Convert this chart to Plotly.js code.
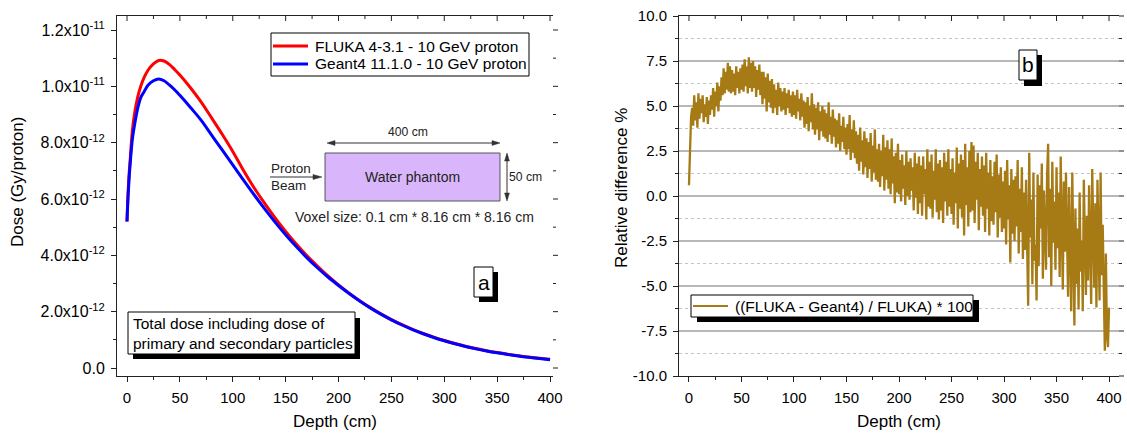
<!DOCTYPE html>
<html><head><meta charset="utf-8">
<script src="https://cdn.plot.ly/plotly-3.0.1.min.js"></script>
<style>html,body{margin:0;padding:0;background:#fff}#chart{width:1127px;height:433px}</style>
</head><body><div id="chart"></div>
<script>
// ---------- data ----------
const depthDose = [0,1,2,3,5,7,10,13,16,20,25,30,35,40,45,50,60,70,80,90,100,110,120,130,140,150,160,170,180,190,200,210,220,230,240,250,260,270,280,290,300,310,320,330,340,350,360,370,380,390,400];
const flukaDose = [5.2e-12,6.2e-12,6.9e-12,7.4e-12,8.4e-12,9.0e-12,9.6e-12,10.0e-12,10.3e-12,10.58e-12,10.8e-12,10.92e-12,10.9e-12,10.78e-12,10.6e-12,10.4e-12,9.95e-12,9.45e-12,8.88e-12,8.3e-12,7.69e-12,7.02e-12,6.41e-12,5.85e-12,5.33e-12,4.85e-12,4.40e-12,3.99e-12,3.62e-12,3.27e-12,2.95e-12,2.66e-12,2.39e-12,2.145e-12,1.922e-12,1.72e-12,1.537e-12,1.373e-12,1.226e-12,1.094e-12,0.976e-12,0.87e-12,0.775e-12,0.69e-12,0.615e-12,0.548e-12,0.488e-12,0.435e-12,0.387e-12,0.345e-12,0.307e-12];
const geant4Dose = [5.2e-12,6.1e-12,6.75e-12,7.25e-12,8.1e-12,8.6e-12,9.2e-12,9.6e-12,9.8e-12,10.05e-12,10.2e-12,10.26e-12,10.2e-12,10.05e-12,9.88e-12,9.68e-12,9.25e-12,8.8e-12,8.27e-12,7.74e-12,7.21e-12,6.68e-12,6.16e-12,5.66e-12,5.18e-12,4.73e-12,4.31e-12,3.92e-12,3.56e-12,3.23e-12,2.93e-12,2.645e-12,2.38e-12,2.135e-12,1.912e-12,1.71e-12,1.527e-12,1.363e-12,1.216e-12,1.084e-12,0.966e-12,0.86e-12,0.765e-12,0.68e-12,0.605e-12,0.538e-12,0.478e-12,0.425e-12,0.377e-12,0.335e-12,0.297e-12];
// relative difference, one value per cm of depth, starting at 0 cm
const relDiffStart = 0, relDiffStep = 1;
const relDiff = [
0.6,3.1,4.4,4.9,3.9,5.6,4.2,5.2,3.8,5.7,
4.3,5.4,4.6,5.6,4.1,5.1,4.4,5.5,4.0,5.3,
4.5,5.6,4.8,6.0,4.4,5.8,5.0,6.3,4.7,6.1,
5.3,6.6,5.6,7.1,5.7,6.9,5.9,7.4,5.8,7.2,
5.7,7.0,5.8,6.8,5.6,7.2,6.0,6.9,5.7,7.1,
5.9,7.3,5.8,7.6,6.1,7.2,5.7,7.7,6.0,7.4,
5.8,7.5,6.0,7.2,5.5,7.0,5.9,7.3,5.6,6.9,
5.1,6.9,5.4,6.6,4.7,6.8,5.2,6.4,4.9,6.5,
4.6,6.2,4.9,5.9,4.5,6.3,5.0,6.0,4.7,5.8,
4.8,6.0,4.5,5.7,4.9,5.9,4.6,5.6,4.4,5.8,
4.5,5.6,4.3,5.9,4.7,5.4,4.2,5.7,4.4,5.3,
3.8,5.2,4.0,5.5,3.6,5.0,4.1,5.7,3.7,5.1,
3.4,4.9,3.7,5.2,3.1,4.7,3.6,5.0,3.3,4.8,
3.2,4.6,3.0,5.2,3.4,4.4,2.9,4.8,3.3,4.3,
2.7,4.2,2.9,4.6,2.5,3.9,3.0,4.4,2.6,3.8,
2.3,4.0,2.6,4.5,2.0,3.7,2.4,4.2,2.1,3.6,
1.8,3.4,1.4,3.8,1.9,3.1,1.2,3.6,1.6,3.2,
1.0,3.0,1.5,3.5,0.8,2.8,1.3,3.7,0.9,2.6,
0.8,2.9,0.5,2.5,1.1,3.4,0.3,2.7,0.9,3.1,
0.4,2.6,0.1,3.2,0.7,2.2,-0.4,2.4,0.2,2.9,
0.1,2.0,-0.3,2.3,0.4,1.7,-0.5,2.5,0.0,1.9,
-0.2,2.1,0.3,1.6,-0.8,2.4,-0.1,1.8,-1.0,2.2,
-0.4,1.7,-1.1,2.2,0.1,1.5,-1.3,2.6,-0.6,1.9,
-0.7,2.3,-1.2,1.4,-0.2,2.6,-0.9,1.8,-1.3,2.0,
-0.8,1.6,-1.5,2.4,-0.3,1.9,-1.1,2.6,-0.6,1.5,
-1.0,2.1,-1.6,1.3,-0.4,2.7,-1.8,1.8,-0.7,2.3,
-1.2,2.0,-2.2,2.9,-0.5,1.6,-1.7,2.5,-0.9,3.0,
-0.8,2.8,-1.5,1.9,-0.2,2.4,-1.9,1.5,-0.6,2.2,
-1.1,1.7,-2.0,2.4,-0.7,1.3,-2.2,2.0,-1.4,1.1,
-1.6,1.9,-0.9,2.3,-2.3,1.2,-1.2,1.6,-2.0,0.8,
-1.8,1.4,-2.7,2.0,-1.3,0.6,-3.7,1.5,-2.1,0.9,
-2.5,1.1,-1.7,2.0,-3.2,0.4,-2.0,1.6,-3.5,0.2,
-3.0,0.9,-4.4,-6.1,2.4,-2.3,-0.2,-4.9,1.3,-3.6,
-2.7,-5.8,1.2,-3.9,0.6,-1.8,1.8,-4.6,0.3,-2.2,
-4.1,1.1,2.9,-3.4,0.4,-5.0,1.9,-2.6,-0.3,-4.1,
1.6,-2.9,0.2,-4.5,2.2,-1.7,-5.2,0.8,-3.1,1.3,
-2.4,-5.6,0.5,-3.8,-6.4,1.3,-2.9,-7.2,-0.7,-4.9,
-1.8,-6.3,0.2,-4.2,-2.5,-6.4,0.9,-3.6,-5.5,-1.1,
-4.7,0.6,-2.8,-6.0,1.5,-3.3,-5.1,-0.4,-6.2,0.9,
-2.6,-5.8,1.3,-4.4,-1.6,-6.5,-8.6,-3.2,-7.7,-8.4,-6.2
];
const doseTickVals = [0,2e-12,4e-12,6e-12,8e-12,1e-11,1.2e-11];
const doseTickText = ['0.0','2.0x10<sup>-12</sup>','4.0x10<sup>-12</sup>','6.0x10<sup>-12</sup>','8.0x10<sup>-12</sup>','1.0x10<sup>-11</sup>','1.2x10<sup>-11</sup>'];
const doseMinorVals = [1e-12,3e-12,5e-12,7e-12,9e-12,1.1e-11];
const diffTickVals = [-10,-7.5,-5,-2.5,0,2.5,5,7.5,10];
const diffTickText = ['-10.0','-7.5','-5.0','-2.5','0.0','2.5','5.0','7.5','10.0'];
const diffMinorVals = [-8.75,-6.25,-3.75,-1.25,1.25,3.75,6.25,8.75];
const depthTickVals = [0,50,100,150,200,250,300,350,400];
const depthMinorVals = [25,75,125,175,225,275,325,375];
const nameFluka = 'FLUKA 4-3.1 - 10 GeV proton';
const nameGeant = 'Geant4 11.1.0 - 10 GeV proton';
const nameDiff = '((FLUKA - Geant4) / FLUKA) * 100';

// ---------- layout helpers ----------
const W = 1127, H = 433, L = 117, R = 8, T = 16, B = 57;
const PX = x => (x - L) / (W - L - R);
const PY = y => (H - B - y) / (H - T - B);
const FONT = 'Liberation Sans, Arial, sans-serif';
const LC = '#222';
const RED = '#ff0000', BLUE = '#0000ff', GOLD = '#a67a14';

const xRangeL = [-9.46, 402.8];
const yRangeL = [-2.84e-13, 1.2497e-11];
const xRangeR = [-9.5, 409.5];
const yRangeR = [-10, 10];
const domL = [0, PX(553)], domR = [PX(679), 1];

const data = [
  {x: depthDose, y: flukaDose, type: 'scatter', mode: 'lines', name: nameFluka, showlegend: false,
   line: {color: RED, width: 3, shape: 'spline'}, xaxis: 'x', yaxis: 'y'},
  {x: depthDose, y: geant4Dose, type: 'scatter', mode: 'lines', name: nameGeant, showlegend: false,
   line: {color: BLUE, width: 3, shape: 'spline'}, xaxis: 'x', yaxis: 'y'},
  {y: relDiff, x0: relDiffStart, dx: relDiffStep, type: 'scatter', mode: 'lines', name: nameDiff, showlegend: false,
   line: {color: GOLD, width: 2.3}, xaxis: 'x2', yaxis: 'y2'}
];

const baseAx = {
  showline: true, linecolor: LC, linewidth: 1, mirror: false, zeroline: false, showgrid: false,
  ticks: 'outside', ticklen: 5, tickwidth: 1, tickcolor: LC,
  tickfont: {family: FONT, size: 15, color: '#000'}, fixedrange: true
};
const xMain = (dom, range, anchor) => Object.assign({}, baseAx, {
  domain: dom, range: range, anchor: anchor, mirror: true, tickmode: 'array', tickvals: depthTickVals,
  ticklabelstandoff: 3,
  minor: {tickmode: 'array', tickvals: depthMinorVals, ticks: 'outside', ticklen: 3, tickcolor: LC},
  title: {text: 'Depth (cm)', font: {family: FONT, size: 17, color: '#000'}, standoff: 10}
});

const rect = (x0, y0, x1, y1, fill, lineColor, lw) => ({
  type: 'rect', xref: 'paper', yref: 'paper', x0: PX(x0), x1: PX(x1), y0: PY(y0), y1: PY(y1),
  fillcolor: fill, line: {color: lineColor || fill, width: lw || 0}, layer: 'above'
});
const seg = (x0, y0, x1, y1, color, w) => ({
  type: 'line', xref: 'paper', yref: 'paper', x0: PX(x0), x1: PX(x1), y0: PY(y0), y1: PY(y1),
  line: {color: color, width: w}, layer: 'above'
});
const tri = (pts, color) => ({
  type: 'path', xref: 'paper', yref: 'paper', layer: 'above', fillcolor: color, line: {color: color, width: 0.5},
  path: 'M' + pts.map(p => PX(p[0]) + ',' + PY(p[1])).join(' L') + ' Z'
});
const txt = (x, y, text, size, anchor, color) => ({
  xref: 'paper', yref: 'paper', x: PX(x), y: PY(y), text: text, showarrow: false,
  xanchor: anchor || 'center', yanchor: 'middle', align: 'left',
  font: {family: FONT, size: size, color: color || '#000'}
});
// frame ticks (top: inward, right: outward), placed from the axes' own ranges and domains
const onAxis = (v, range, dom) => dom[0] + (v - range[0]) / (range[1] - range[0]) * (dom[1] - dom[0]);
const topTicks = (vals, range, dom, len) => vals.map(v => {
  const xp = onAxis(v, range, dom);
  return {type: 'line', xref: 'paper', yref: 'paper', x0: xp, x1: xp, y0: PY(T), y1: PY(T + len),
          line: {color: LC, width: 1}, layer: 'above'};
});
const rightTicks = (vals, range, xPix, len) => vals.map(v => {
  const yp = onAxis(v, range, [0, 1]);
  return {type: 'line', xref: 'paper', yref: 'paper', x0: PX(xPix), x1: PX(xPix + len), y0: yp, y1: yp,
          line: {color: LC, width: 1}, layer: 'above'};
});

const frameShapes = [].concat(
  topTicks(depthTickVals, xRangeL, domL, 5), topTicks(depthMinorVals, xRangeL, domL, 3),
  topTicks(depthTickVals, xRangeR, domR, 5), topTicks(depthMinorVals, xRangeR, domR, 3),
  rightTicks(doseTickVals, yRangeL, 553, 5), rightTicks(doseMinorVals, yRangeL, 553, 3),
  rightTicks(diffTickVals, yRangeR, 1119, 5), rightTicks(diffMinorVals, yRangeR, 1119, 3)
);

const layout = {
  width: W, height: H, margin: {l: L, r: R, t: T, b: B}, autosize: false,
  paper_bgcolor: '#fff', plot_bgcolor: 'rgba(0,0,0,0)',
  font: {family: FONT, color: '#000'},
  showlegend: false,
  xaxis: xMain(domL, xRangeL, 'y'),
  yaxis: Object.assign({}, baseAx, {
    domain: [0, 1], range: yRangeL, anchor: 'x', tickmode: 'array', tickvals: doseTickVals, ticktext: doseTickText,
    ticklabelstandoff: 3, tickfont: {family: FONT, size: 16, color: '#000'},
    minor: {tickmode: 'array', tickvals: doseMinorVals, ticks: 'outside', ticklen: 3, tickcolor: LC}
  }),
  xaxis2: xMain(domR, xRangeR, 'y2'),
  yaxis2: Object.assign({}, baseAx, {
    domain: [0, 1], range: yRangeR, anchor: 'x2', tickmode: 'array', tickvals: diffTickVals, ticktext: diffTickText,
    ticklabelstandoff: 3,
    showgrid: true, gridcolor: '#b8b8b8', gridwidth: 1.5,
    minor: {tickmode: 'array', tickvals: diffMinorVals, ticks: 'outside', ticklen: 3, tickcolor: LC,
            showgrid: true, gridcolor: '#c4c4c4', griddash: 'dot', gridwidth: 1}
  }),
  shapes: frameShapes.concat([
    // left legend
    rect(271, 33, 529, 76, '#fff', '#000', 1),
    seg(273, 46, 308, 46, RED, 3),
    seg(273, 64, 308, 64, BLUE, 3),
    // right legend with shadow
    rect(697, 300, 979, 322, '#000'),
    rect(691, 295, 973, 317, '#fff', '#000', 1),
    seg(693, 306, 728, 306, GOLD, 2),
    // total dose note box with shadow
    rect(133, 318, 360, 359, '#000'),
    rect(128, 312, 355, 354, '#fff', '#000', 1),
    // "a" box
    rect(479, 272, 498, 302, '#000'),
    rect(474, 267, 493, 297, '#fff', '#000', 1),
    // "b" box
    rect(1024, 55, 1042, 86, '#000'),
    rect(1019, 50, 1037, 80, '#fff', '#000', 1),
    // water phantom sketch
    rect(325, 153, 500, 201, '#d9b6fb', '#555', 1),
    seg(329, 143, 498, 143, '#333', 1),
    tri([[327, 143], [335, 140.6], [335, 145.4]], '#333'),
    tri([[500, 143], [492, 140.6], [492, 145.4]], '#333'),
    seg(507, 155, 507, 199, '#333', 1),
    tri([[507, 153], [504.6, 161], [509.4, 161]], '#333'),
    tri([[507, 201], [504.6, 193], [509.4, 193]], '#333'),
    seg(270, 177, 318, 177, '#333', 1),
    tri([[322, 177], [313, 174.5], [313, 179.5]], '#333')
  ]),
  annotations: [
    {xref: 'paper', yref: 'paper', x: PX(17), y: PY(182), text: 'Dose (Gy/proton)', textangle: -90, showarrow: false,
     font: {family: FONT, size: 17, color: '#000'}, xanchor: 'center', yanchor: 'middle'},
    {xref: 'paper', yref: 'paper', x: PX(621), y: PY(188), text: 'Relative difference %', textangle: -90, showarrow: false,
     font: {family: FONT, size: 17, color: '#000'}, xanchor: 'center', yanchor: 'middle'},
    txt(313, 46, nameFluka, 15.5, 'left'),
    txt(313, 64, nameGeant, 15.5, 'left'),
    txt(733, 306, nameDiff, 15.5, 'left'),
    txt(131, 333, 'Total dose including dose of<br>primary and secondary particles', 15.5, 'left'),
    txt(483.5, 282, 'a', 21),
    txt(1028, 65, 'b', 21),
    txt(412.5, 177, 'Water phantom', 14, 'center', '#222'),
    txt(408, 132, '400 cm', 12.2, 'center', '#222'),
    txt(525, 177, '50 cm', 12.2, 'center', '#222'),
    txt(269, 168, 'Proton', 13.5, 'left', '#222'),
    txt(269, 185, 'Beam', 13.5, 'left', '#222'),
    txt(414, 217, 'Voxel size: 0.1 cm * 8.16 cm * 8.16 cm', 14, 'center', '#222')
  ]
};

Plotly.newPlot('chart', data, layout, {displayModeBar: false, responsive: false});
</script>
</body></html>
